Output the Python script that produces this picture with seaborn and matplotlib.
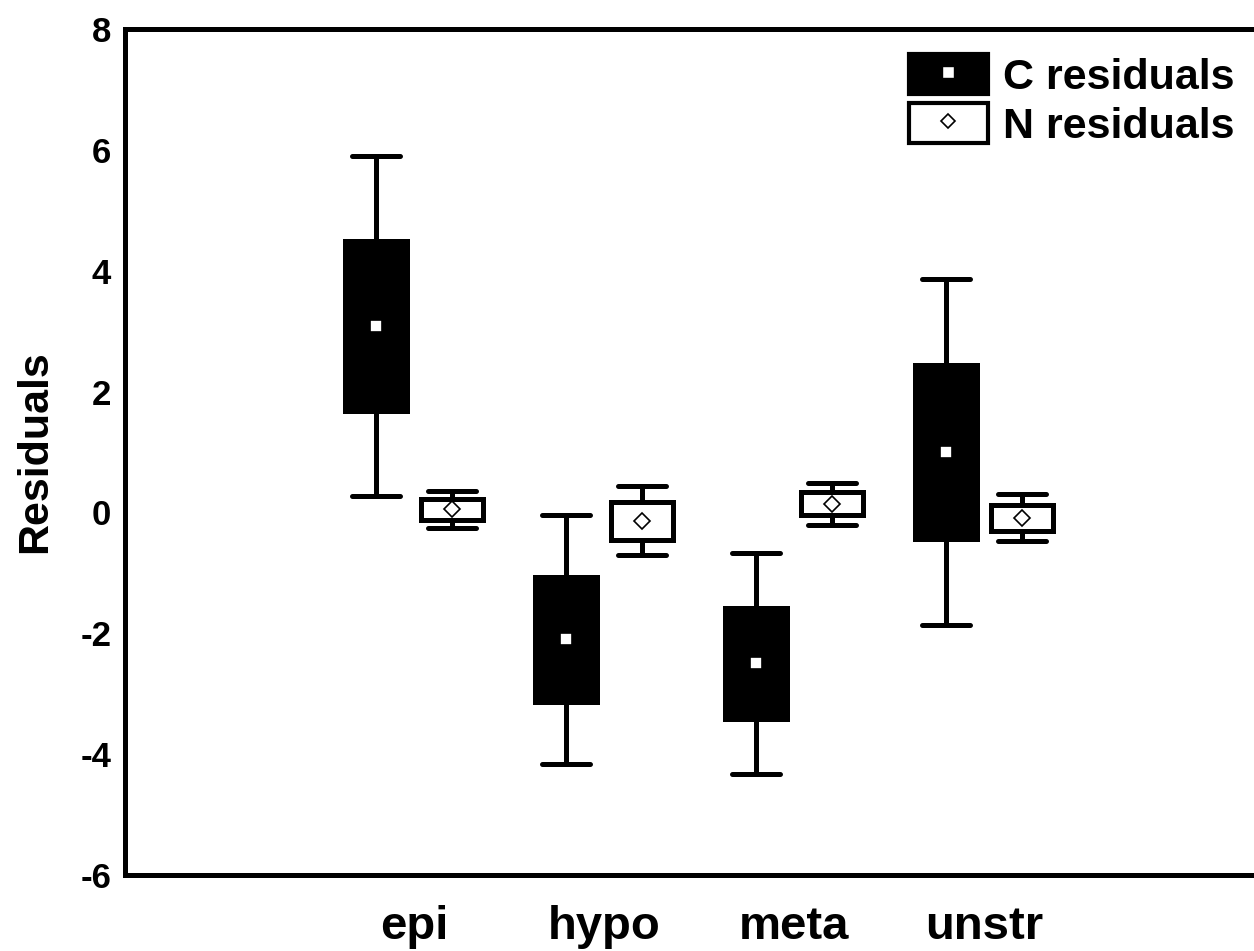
import numpy as np
import pandas as pd
import matplotlib.pyplot as plt
import seaborn as sns
from matplotlib.patches import Patch
from matplotlib.lines import Line2D

zones = ["epi", "hypo", "meta", "unstr"]
series = ["C residuals", "N residuals"]

# centre marker, half height of the box, half length of the whiskers
c_mean = [3.08, -2.10, -2.50, 1.00]
c_box = [1.41, 1.03, 0.92, 1.44]
c_whisk = [2.81, 2.06, 1.83, 2.86]

n_mean = [0.05, -0.14, 0.14, -0.09]
n_box = [0.17, 0.31, 0.19, 0.21]
n_whisk = [0.31, 0.57, 0.35, 0.39]

# long table: 5 values per box -> whisker ends, box edges, centre
rows = []
for name, mean, box, whisk in [(series[0], c_mean, c_box, c_whisk),
                               (series[1], n_mean, n_box, n_whisk)]:
    for z, m, b, w in zip(zones, mean, box, whisk):
        for v in [m - w, m - b, m, m + b, m + w]:
            rows.append({"zone": z, "series": name, "value": v})
df = pd.DataFrame(rows)

means = pd.DataFrame({"zone": zones * 2,
                      "series": [series[0]] * 4 + [series[1]] * 4,
                      "value": c_mean + n_mean})

######### Plot
sns.set_style("white")
plt.rcParams["font.family"] = ["Liberation Sans", "DejaVu Sans"]
plt.rcParams["font.weight"] = "bold"
plt.rcParams["axes.labelweight"] = "bold"
plt.rcParams["axes.unicode_minus"] = False
plt.rcParams["text.color"] = "black"
plt.rcParams["axes.labelcolor"] = "black"
plt.rcParams["xtick.color"] = "black"
plt.rcParams["ytick.color"] = "black"

fig = plt.figure(figsize=(12.54, 9.51), dpi=100)
ax = fig.add_axes([0.0997, 0.080, 0.9003, 0.8895])

sns.boxplot(data=df, x="zone", y="value", hue="series", order=zones,
            palette={series[0]: "black", series[1]: "white"}, saturation=1,
            linecolor="black", linewidth=3.6, width=0.8, gap=0.18,
            whis=(0, 100), showfliers=False, medianprops={"visible": False},
            capwidths=0.25, legend=False, ax=ax)

sns.pointplot(data=means, x="zone", y="value", hue="series", order=zones,
              palette={series[0]: "white", series[1]: "white"},
              markers=["s", "D"], linestyle="none", dodge=0.4, errorbar=None,
              markersize=8, markeredgecolor="black", markeredgewidth=1.2,
              legend=False, ax=ax)

ax.set_xlim(-1.52, 4.42)
ax.set_ylim(-6, 8)
ax.set_yticks(np.arange(-6, 9, 2))
ax.set_xlabel("")
ax.set_ylabel("Residuals", fontsize=31, labelpad=18)

for side in ["left", "bottom", "top"]:
    ax.spines[side].set_linewidth(3.6)
    ax.spines[side].set_color("black")
ax.spines["right"].set_visible(False)

ax.tick_params(axis="y", labelsize=25, length=5, width=3, direction="out", pad=5)
ax.tick_params(axis="x", labelsize=34, length=0, pad=22)

#! Legend
h_c = (Patch(facecolor="black", edgecolor="black", linewidth=3),
       Line2D([], [], marker="s", ls="none", mfc="white", mec="black", ms=8))
h_n = (Patch(facecolor="white", edgecolor="black", linewidth=3),
       Line2D([], [], marker="D", ls="none", mfc="white", mec="black", ms=7, mew=1.2))
ax.legend([h_c, h_n], series, loc="upper right", bbox_to_anchor=(0.983, 0.97),
          frameon=False, fontsize=31, handlelength=1.85, handleheight=1.05,
          labelspacing=0.12, handletextpad=0.35, borderaxespad=0, borderpad=0)

plt.savefig("out.png", dpi=100)
